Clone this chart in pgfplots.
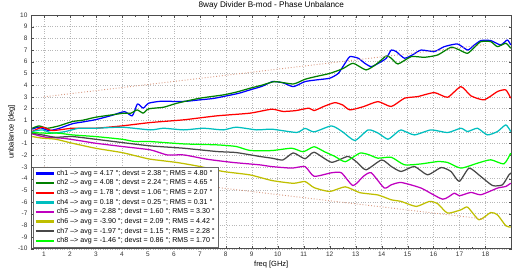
\documentclass[border=0pt]{standalone}
\usepackage{pgfplots}
\pgfplotsset{compat=1.18}
\usepackage{fontspec}
\setmainfont{Liberation Sans}
\definecolor{cA}{RGB}{0,0,255}
\definecolor{cB}{RGB}{0,128,0}
\definecolor{cC}{RGB}{255,0,0}
\definecolor{cD}{RGB}{0,191,191}
\definecolor{cE}{RGB}{191,0,191}
\definecolor{cF}{RGB}{191,191,0}
\definecolor{cG}{RGB}{72,72,72}
\definecolor{cH}{RGB}{0,255,0}
\definecolor{dotc}{RGB}{215,150,125}
\pgfplotsset{sm/.style={line width=1.25bp, line join=round, smooth, tension=0.35}}
\begin{document}
\begin{tikzpicture}
\begin{axis}[
  scale only axis, width=481bp, height=234bp,
  xmin=0.5, xmax=19, ymin=-10, ymax=10,
  xtick={1,...,18}, ytick={-10,...,10},
  minor x tick num=1,
  tick align=inside,
  major tick length=3bp, minor tick length=2bp,
  grid=major,
  major grid style={dotted, black!28, line width=0.5bp},
  axis line style={black!70, line width=0.6bp},
  tick style={black!70},
  /pgf/number format/assume math mode=true,
  ticklabel style={font=\fontsize{6.5bp}{7bp}\selectfont, text=black!80},
  title={8way Divider B-mod - Phase Unbalance},
  title style={font=\fontsize{8.2bp}{9bp}\selectfont, yshift=-4bp},
  xlabel={freq [GHz]}, ylabel={unbalance [deg]},
  label style={font=\fontsize{7.5bp}{8bp}\selectfont},
  xlabel style={yshift=3bp},
  ylabel style={yshift=-4bp},
  legend style={at={(rel axis cs:0.004,0.004)}, anchor=south west,
    font=\fontsize{7.1bp}{8bp}\selectfont, draw=black!60, fill=white,
    row sep=-1.0bp, inner sep=1.5bp, cells={anchor=west}},
  legend image code/.code={\draw[#1] plot coordinates {(0bp,0bp) (9bp,0bp) (18bp,0bp)};},
  legend image post style={line width=2.3bp, sharp plot},
]
\addplot[cA, sm] coordinates {(0.55,0.23)(0.8,0.4)(1.2,0.11)(1.6,0.31)(2.1,0.7)(2.5,0.85)(3.0,1.05)(3.6,1.4)(4.1,1.73)(4.4,1.37)(4.6,2.39)(4.82,2.03)(5.03,2.45)(5.5,2.62)(6.1,2.6)(6.5,2.62)(7.0,2.74)(7.5,2.85)(7.9,3.02)(8.5,3.3)(8.93,3.59)(9.4,3.9)(9.8,4.3)(10.2,4.2)(10.6,3.87)(11.05,4.3)(11.5,4.45)(12.0,4.59)(12.33,5.0)(12.6,5.9)(12.78,6.44)(13.1,6.3)(13.35,5.87)(13.6,5.58)(13.9,5.9)(14.18,6.3)(14.37,7.0)(14.56,6.87)(14.88,6.3)(15.2,6.6)(15.52,7.0)(16.03,6.87)(16.41,7.29)(16.92,7.52)(17.31,7.0)(17.55,7.4)(17.82,7.81)(18.2,7.81)(18.58,7.44)(18.84,7.86)(18.97,7.44)};
\addlegendentry{ch1 --> avg = 4.17 °; devst = 2.38 °; RMS = 4.80 °}
\addplot[cB, sm] coordinates {(0.55,0.31)(0.81,0.51)(1.13,0.31)(1.57,0.51)(2.09,0.88)(2.5,1.0)(2.98,1.25)(3.6,1.45)(4.08,1.6)(4.35,1.6)(4.59,1.88)(4.82,1.6)(5.03,1.97)(5.61,2.11)(6.12,2.45)(7.0,2.88)(7.9,3.16)(8.4,3.4)(8.93,3.73)(9.4,4.0)(9.89,4.3)(10.6,4.1)(11.05,4.5)(11.5,4.75)(12.0,5.0)(12.5,5.4)(12.9,5.87)(13.4,5.3)(13.8,5.8)(14.18,6.5)(14.37,6.3)(14.63,5.81)(15.14,6.44)(15.65,6.38)(16.16,6.58)(16.67,7.24)(17.0,7.0)(17.31,6.72)(17.6,7.3)(17.82,7.72)(18.2,7.72)(18.46,7.29)(18.78,7.58)(18.97,7.15)};
\addlegendentry{ch2 --> avg = 4.08 °; devst = 2.24 °; RMS = 4.65 °}
\addplot[cC, sm] coordinates {(0.55,0.03)(0.94,0.4)(1.32,0.11)(2.09,0.31)(2.98,0.31)(4.0,0.51)(5.1,0.8)(6.38,1.03)(7.65,1.37)(8.93,1.6)(9.77,1.94)(10.2,1.75)(10.7,1.82)(11.2,2.03)(11.4,1.82)(11.8,2.2)(12.2,2.5)(12.5,2.3)(12.78,1.88)(13.3,2.16)(13.86,2.59)(14.37,2.17)(14.88,2.88)(15.39,3.02)(16.03,3.36)(16.54,2.96)(17.05,3.87)(17.44,3.08)(17.95,2.74)(18.46,3.45)(18.78,3.59)(18.97,2.88)};
\addlegendentry{ch3 --> avg = 1.78 °; devst = 1.06 °; RMS = 2.07 °}
\addplot[cD, sm] coordinates {(0.55,0.03)(0.94,0.17)(1.32,-0.11)(1.83,0.03)(2.34,0.31)(2.98,0.31)(4.0,0.4)(5.1,0.17)(5.6,0.31)(6.38,0.17)(7.14,0.31)(7.9,0.17)(8.4,0.4)(9.19,0.17)(9.77,0.23)(10.73,-0.05)(11.05,0.3)(11.4,0.0)(12.07,0.51)(12.5,0.0)(12.97,-0.74)(13.48,0.17)(13.86,-0.1)(14.24,-0.63)(14.56,-0.1)(14.75,0.17)(15.26,-0.26)(15.9,0.17)(16.54,-0.06)(17.05,0.31)(17.31,0.03)(17.69,0.31)(18.07,-0.26)(18.46,0.03)(18.78,0.6)(18.97,0.03)};
\addlegendentry{ch4 --> avg = 0.18 °; devst = 0.25 °; RMS = 0.31 °}
\addplot[cE, sm] coordinates {(0.55,-0.17)(1.06,-0.46)(1.7,-0.54)(2.34,-0.74)(2.98,-0.97)(4.0,-1.25)(5.1,-1.54)(5.74,-1.97)(6.38,-1.97)(7.27,-2.34)(8.29,-2.62)(9.3,-2.82)(9.77,-2.97)(10.54,-3.1)(11.05,-2.97)(11.4,-3.8)(12.07,-3.5)(12.45,-3.5)(12.9,-4.6)(13.3,-3.8)(13.6,-3.5)(14.1,-4.8)(14.37,-4.53)(14.75,-4.33)(15.52,-4.81)(16.35,-5.76)(16.8,-5.24)(16.99,-5.47)(17.44,-5.18)(17.82,-5.38)(18.46,-4.81)(18.78,-4.67)(18.97,-4.39)};
\addlegendentry{ch5 --> avg = -2.88 °; devst = 1.60 °; RMS = 3.30 °}
\addplot[cF, sm] coordinates {(0.55,-0.4)(0.94,-0.54)(1.45,-0.63)(2.09,-0.97)(2.98,-1.4)(4.0,-1.77)(4.64,-2.11)(5.1,-2.34)(6.12,-2.62)(7.0,-2.96)(7.9,-3.39)(8.93,-3.68)(9.77,-4.16)(10.6,-4.4)(11.05,-4.25)(11.4,-4.77)(12.0,-5.1)(12.6,-4.7)(13.16,-5.2)(13.86,-5.4)(14.37,-5.81)(14.75,-5.95)(15.33,-6.38)(15.84,-5.95)(16.16,-6.15)(16.54,-6.95)(17.05,-6.67)(17.31,-6.44)(17.75,-7.52)(18.2,-6.9)(18.46,-7.1)(18.78,-8.03)(18.97,-8.15)};
\addlegendentry{ch6 --> avg = -3.90 °; devst = 2.09 °; RMS = 4.42 °}
\addplot[cG, sm] coordinates {(0.55,-0.11)(0.94,-0.26)(1.45,-0.46)(2.09,-0.4)(2.98,-0.63)(4.0,-0.91)(5.1,-1.2)(6.38,-1.4)(7.65,-1.68)(8.4,-1.77)(9.3,-2.1)(9.77,-2.25)(10.2,-2.4)(10.6,-1.8)(11.05,-2.3)(11.4,-1.74)(12.07,-2.6)(12.7,-2.1)(13.05,-2.6)(13.4,-3.25)(14.0,-2.4)(14.37,-2.96)(14.75,-3.39)(15.26,-2.96)(15.77,-3.68)(16.29,-3.05)(16.67,-3.39)(16.99,-4.24)(17.37,-3.1)(17.82,-3.82)(18.27,-4.59)(18.65,-4.53)(18.9,-3.68)(19.0,-3.5)};
\addlegendentry{ch7 --> avg = -1.97 °; devst = 1.15 °; RMS = 2.28 °}
\addplot[cH, sm] coordinates {(0.55,-0.06)(1.06,-0.11)(1.57,-0.11)(2.09,-0.26)(2.98,-0.4)(4.0,-0.63)(4.51,-0.83)(5.1,-0.83)(6.38,-1.03)(7.65,-1.11)(8.4,-1.25)(8.93,-1.59)(9.77,-1.6)(10.54,-1.4)(10.98,-1.7)(11.4,-1.27)(11.8,-1.7)(12.2,-2.1)(12.6,-2.55)(13.16,-1.82)(13.5,-1.95)(13.86,-2.25)(14.37,-2.17)(14.88,-2.82)(15.52,-2.74)(16.16,-2.54)(16.54,-2.62)(17.05,-3.1)(17.69,-2.68)(18.2,-2.39)(18.71,-2.74)(18.97,-1.82)};
\addlegendentry{ch8 --> avg = -1.46 °; devst = 0.86 °; RMS = 1.70 °}
\addplot[dotc, dotted, line width=0.9bp, forget plot] coordinates {(1,3)(18,7.47)};
\addplot[dotc, dotted, line width=0.9bp, forget plot] coordinates {(1,-3)(18,-7.47)};
\coordinate (ll) at (rel axis cs:0,0);
\coordinate (ur) at (rel axis cs:1,1);
\end{axis}
\pgfresetboundingbox
\path ([shift={(-31bp,-25bp)}]ll) rectangle ([shift={(0.5bp,15bp)}]ur);
\end{tikzpicture}
\end{document}
